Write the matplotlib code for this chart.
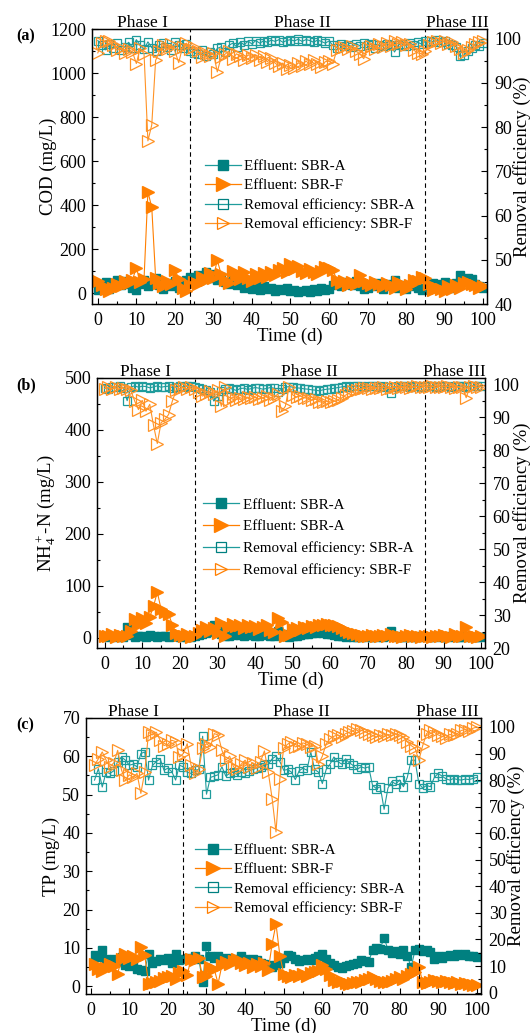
import numpy as np
import matplotlib.pyplot as plt
from matplotlib.lines import Line2D
from matplotlib.ticker import MultipleLocator

plt.rcParams['font.family'] = ['Liberation Serif', 'DejaVu Serif']
plt.rcParams['mathtext.fontset'] = 'custom'
plt.rcParams['mathtext.rm'] = 'Liberation Serif'
plt.rcParams['mathtext.it'] = 'Liberation Serif:italic'

## colours
TEAL = '#008080'
TEAL_LT = '#1f9c9c'
ORANGE = '#ff7f00'
ORANGE_LT = '#ff9326'

## ---- (a) COD ----
days_a = list(range(0, 101))
cod_eff_a = [15, 30, 50, 20, 45, 60, 35, 55, 40, 25, 15, 40, 60, 30, 50, 70, 35, 20, 45, 30,
             55, 25, 40, 60, 75, 55, 80, 65, 95, 70, 85, 60, 75, 50, 40, 60, 35, 45, 25, 30,
             20, 35, 15, 30, 20, 25, 10, 20, 15, 25, 10, 15, 5, 10, 15, 5, 20, 10, 25, 15,
             20, 35, 45, 30, 50, 40, 35, 55, 30, 20, 25, 35, 30, 45, 20, 40, 30, 60, 25, 35,
             20, 30, 40, 25, 15, 20, 30, 45, 25, 40, 50, 35, 25, 45, 80, 60, 70, 65, 40, 30, 25]
cod_eff_f = [55, 35, 20, 10, 25, 40, 30, 55, 45, 60, 115, 50, 65, 460, 390, 70, 45, 30, 55, 40,
             105, 65, 25, 10, 35, 50, 40, 75, 60, 90, 70, 150, 85, 60, 45, 100, 80, 65, 95, 70,
             55, 85, 70, 90, 75, 95, 80, 105, 115, 95, 130, 110, 125, 100, 90, 110, 95, 85, 100, 120,
             115, 105, 60, 45, 55, 35, 50, 40, 80, 55, 45, 35, 50, 40, 30, 45, 35, 25, 50, 40,
             20, 35, 60, 55, 75, 70, 40, 15, 25, 20, 10, 30, 20, 35, 25, 45, 50, 40, 35, 25, 30]
cod_rem_a = [99.6, 98.5, 97.5, 98.8, 97.8, 99.0, 97.5, 98.2, 99.2, 98.0, 99.8, 98.5, 97.6, 99.3, 98.0,
             97.2, 98.6, 99.0, 98.2, 97.5, 99.2, 98.5, 97.8, 98.8, 97.2, 96.8, 96.5, 97.5, 96.2, 97.0,
             96.6, 97.8, 98.2, 97.0, 98.5, 99.0, 98.2, 99.3, 98.6, 99.5, 98.8, 99.6, 99.0, 99.5, 99.2,
             99.7, 99.4, 99.8, 99.2, 99.6, 99.8, 99.5, 99.9, 99.4, 99.8, 99.6, 99.2, 99.7, 99.4, 99.0,
             99.5, 98.5, 98.0, 98.8, 98.3, 98.6, 98.1, 98.9, 98.4, 99.0, 98.5, 98.8, 98.0, 98.7, 98.3,
             98.9, 98.5, 97.0, 98.6, 98.9, 98.4, 99.0, 98.6, 99.2, 98.8, 99.4, 99.6, 99.3, 99.7, 99.2,
             99.5, 98.8, 98.5, 98.2, 96.0, 96.3, 97.2, 98.0, 98.6, 98.4, 99.0]
cod_rem_f = [96.8, 99.0, 99.6, 99.4, 98.6, 97.4, 98.0, 96.8, 97.6, 97.0, 94.4, 97.8, 96.6, 76.9, 80.5,
             95.1, 97.2, 98.5, 97.6, 98.8, 97.2, 94.6, 98.2, 99.0, 97.6, 98.2, 97.3, 95.8, 96.8, 96.0,
             96.8, 92.5, 95.8, 96.5, 97.2, 95.5, 96.6, 96.0, 95.2, 96.4, 95.6, 96.3, 95.2, 96.0, 94.8,
             95.6, 94.5, 93.8, 94.5, 93.2, 94.0, 93.4, 94.6, 93.8, 95.0, 94.2, 95.2, 94.4, 93.5, 94.8,
             95.0, 94.4, 97.4, 97.8, 98.2, 97.6, 98.4, 97.2, 96.6, 95.5, 97.8, 98.4, 97.6, 98.8, 98.2,
             99.0, 98.4, 99.4, 98.8, 99.2, 98.5, 98.9, 97.4, 96.8, 96.6, 97.2, 98.6, 99.2, 99.5, 99.0,
             99.6, 98.8, 99.2, 98.3, 97.6, 96.8, 97.4, 98.2, 98.8, 99.2, 99.4]

## ---- (b) NH4+-N ----
days_b = list(range(0, 101))
nh4_eff_a = [3, 2, 4, 1, 3, 2, 21, 5, 2, 4, 3, 2, 5, 3, 2, 4, 3, 2, 4, 3,
             1, 3, 2, 1, 3, 5, 6, 8, 10, 24, 12, 6, 4, 3, 5, 7, 5, 4, 6, 5,
             3, 4, 6, 5, 3, 4, 12, 6, 3, 2, 3, 4, 5, 6, 7, 8, 9, 10, 8, 7,
             6, 5, 4, 3, 2, 3, 2, 1, 2, 3, 2, 1, 2, 3, 2, 4, 13, 3, 2, 1,
             2, 3, 2, 1, 3, 2, 1, 2, 3, 2, 1, 2, 3, 2, 1, 2, 3, 2, 1, 2, 2]
nh4_eff_f = [4, 3, 6, 2, 5, 3, 4, 12, 35, 25, 38, 28, 40, 60, 88, 55, 50, 45, 25, 8,
             5, 3, 6, 2, 4, 8, 15, 20, 12, 18, 8, 28, 3, 20, 26, 22, 25, 18, 24, 20,
             22, 17, 21, 24, 15, 10, 38, 30, 3, 5, 16, 18, 15, 20, 18, 22, 20, 24, 25, 26,
             24, 25, 22, 18, 14, 11, 8, 6, 5, 4, 3, 5, 4, 3, 5, 4, 6, 3, 4, 2,
             3, 5, 4, 3, 2, 4, 3, 2, 4, 3, 5, 3, 2, 6, 4, 3, 20, 4, 3, 2, 3]
nh4_rem_a = [99.0, 98.6, 99.4, 99.2, 99.5, 99.0, 95.1, 99.3, 99.6, 99.2, 99.5, 99.4, 99.0, 99.3, 99.6,
             99.2, 99.4, 99.5, 99.1, 99.3, 99.6, 99.2, 99.5, 99.7, 99.3, 98.9, 98.6, 98.2, 97.8, 95.0,
             96.5, 98.0, 98.8, 99.0, 98.6, 98.2, 98.8, 98.9, 98.5, 98.8, 99.1, 98.9, 98.6, 98.8, 99.1,
             98.9, 97.8, 98.6, 99.2, 99.4, 99.2, 99.0, 98.9, 98.7, 98.6, 98.4, 98.3, 98.1, 98.4, 98.6,
             98.7, 98.9, 99.1, 99.3, 99.5, 99.3, 99.5, 99.6, 99.5, 99.3, 99.5, 99.6, 99.5, 99.4, 99.5,
             99.2, 97.4, 99.3, 99.5, 99.6, 99.5, 99.3, 99.5, 99.6, 99.4, 99.5, 99.6, 99.5, 99.4, 99.5,
             99.6, 99.5, 99.4, 99.5, 99.6, 99.5, 99.4, 99.5, 99.6, 99.5, 99.5]
nh4_rem_f = [98.8, 99.2, 98.6, 99.4, 98.8, 99.0, 98.6, 98.2, 95.0, 92.4, 95.2, 91.9, 94.0, 87.6, 82.1,
             88.4, 89.4, 90.9, 95.0, 98.2, 98.8, 99.2, 98.6, 99.4, 98.8, 97.6, 96.5, 97.2, 98.0, 97.0,
             98.2, 93.4, 99.4, 95.2, 96.2, 95.4, 96.0, 95.6, 96.2, 95.8, 96.3, 95.6, 96.0, 96.4, 95.2,
             96.0, 97.2, 91.9, 93.4, 99.4, 96.8, 96.2, 96.6, 96.0, 95.8, 95.2, 95.6, 94.8, 94.6, 95.0,
             94.7, 94.9, 95.4, 96.0, 96.8, 97.4, 98.0, 98.4, 98.7, 98.9, 99.0, 98.8, 99.1, 98.9, 99.2,
             98.8, 99.0, 99.3, 99.1, 99.4, 99.2, 99.0, 99.3, 99.5, 99.2, 99.4, 99.3, 99.5, 99.2, 99.4,
             99.3, 99.5, 99.2, 99.0, 99.4, 99.2, 96.0, 99.3, 99.5, 99.2, 99.4]

## ---- (c) TP ----
days_c = list(range(1, 101))
tp_eff_a = [8.1, 7.7, 9.4, 7.2, 6.5, 7.0, 6.3, 7.7, 5.5, 5.2, 5.8, 4.5, 4.2, 4.0, 8.5, 6.0, 6.5, 7.2, 6.8, 7.5,
            6.2, 8.5, 6.8, 7.2, 7.5, 7.0, 7.8, 7.2, 1.1, 10.4, 8.0, 7.5, 7.8, 7.0, 7.5, 6.8, 7.2, 6.5, 7.8, 7.0,
            6.5, 7.2, 6.8, 6.2, 5.8, 5.5, 5.0, 5.5, 6.0, 7.5, 8.2, 8.0, 7.0, 6.5, 6.8, 7.2, 6.8, 7.5, 8.0, 8.5,
            7.0, 6.0, 5.5, 5.0, 4.8, 5.2, 5.6, 5.8, 6.2, 6.8, 6.5, 6.3, 9.5, 10.0, 9.8, 12.7, 9.5, 8.8, 9.2, 8.5,
            9.4, 8.0, 5.0, 9.4, 9.6, 9.2, 9.5, 9.0, 7.2, 7.8, 7.5, 8.0, 8.2, 7.9, 8.4, 8.1, 8.3, 8.0, 7.8, 7.6]
tp_eff_f = [5.9, 4.5, 4.0, 4.8, 5.9, 5.2, 3.3, 7.2, 8.5, 7.5, 8.0, 7.2, 10.3, 8.1, 0.7, 0.8, 1.0, 1.5, 2.2, 2.4,
            2.8, 2.0, 3.5, 4.0, 3.0, 7.2, 6.8, 7.5, 2.4, 2.8, 5.0, 4.5, 0.7, 5.5, 6.3, 5.8, 6.5, 7.0, 6.0, 5.5,
            6.2, 5.0, 5.8, 5.2, 6.0, 4.2, 11.1, 16.3, 8.0, 3.3, 2.8, 2.4, 3.0, 2.6, 3.3, 2.8, 3.5, 3.8, 4.0, 5.5,
            4.5, 3.0, 1.6, 1.2, 1.4, 0.9, 0.7, 0.8, 1.0, 1.2, 1.6, 2.0, 2.4, 1.8, 1.5, 1.2, 1.0, 1.4, 1.8, 2.4,
            2.0, 2.8, 3.3, 3.8, 5.0, 1.1, 0.8, 1.2, 1.6, 1.4, 1.0, 1.5, 1.2, 0.8, 1.0, 0.6, 0.8, 0.5, 0.4, 0.3]
tp_rem_a = [80.0, 84.3, 77.4, 83.0, 82.5, 83.5, 87.0, 88.7, 87.5, 85.6, 86.0, 85.0, 90.0, 90.6, 80.0,
            85.5, 87.0, 88.0, 83.7, 84.5, 83.2, 80.0, 85.6, 85.0, 83.0, 82.5, 83.7, 84.0, 96.5, 74.7,
            81.0, 81.5, 82.0, 85.0, 81.5, 82.5, 83.0, 82.0, 83.0, 82.5, 83.5, 84.0, 84.5, 85.0, 85.6,
            86.0, 88.0, 89.0, 87.0, 83.7, 84.0, 83.0, 80.2, 83.5, 84.5, 83.7, 90.6, 84.0, 83.0, 78.7,
            84.0, 86.0, 88.7, 87.0, 86.0, 88.0, 86.5, 85.5, 84.0, 85.0, 84.5, 85.0, 78.0, 76.8, 77.5,
            69.0, 77.0, 79.5, 78.5, 80.0, 77.5, 81.0, 87.5, 87.5, 78.7, 77.0, 78.0, 77.5, 81.0, 82.5,
            81.5, 80.5, 80.0, 80.6, 80.2, 80.0, 80.4, 80.2, 80.6, 81.0]
tp_rem_f = [85.6, 88.0, 90.6, 87.5, 85.0, 86.5, 91.2, 83.7, 80.0, 82.0, 81.0, 82.5, 75.0, 83.0, 98.0,
            97.0, 98.0, 95.0, 93.0, 93.5, 95.0, 94.5, 88.7, 90.0, 93.7, 85.6, 82.5, 84.0, 92.0, 93.7,
            92.5, 97.5, 97.0, 91.2, 87.5, 89.0, 85.0, 84.0, 86.0, 87.5, 85.0, 86.5, 84.5, 87.0, 91.0,
            83.0, 73.0, 60.5, 80.6, 92.0, 93.5, 94.4, 92.5, 93.0, 94.0, 93.5, 92.5, 93.0, 86.0, 89.0,
            93.7, 95.6, 96.5, 97.0, 96.2, 97.5, 98.0, 98.6, 99.4, 98.8, 98.2, 97.5, 96.8, 96.2, 97.0,
            96.5, 97.2, 96.8, 97.5, 97.0, 96.2, 94.4, 93.0, 92.0, 87.5, 93.0, 97.5, 98.7, 98.0, 97.0,
            96.5, 96.0, 97.2, 96.8, 97.5, 98.7, 99.0, 98.5, 99.5, 100.0]

phase_names = ['Phase I', 'Phase II', 'Phase III']
phase_bounds = [24, 85]

fig = plt.figure(figsize=(5.31, 10.33), dpi=100)

panels = [
    dict(tag='(a)', days=days_a, ea=cod_eff_a, ef=cod_eff_f, ra=cod_rem_a, rf=cod_rem_f,
         ylabel='COD (mg/L)', pos=[0.1733, 0.7057, 0.7439, 0.2662],
         xlim=(-1.5, 101.0), ylim=(-50, 1200), ymaj=200, ymin=100,
         rlim=(40, 102.2), rmaj=10, rmin=5, ylx=-0.088, rlx=1.066,
         flabel='Effluent: SBR-F', phase_x=[11.5, 53.2, 93.2], leg=(0.285, 0.525), lsp=0.38),
    dict(tag='(b)', days=days_b, ea=nh4_eff_a, ef=nh4_eff_f, ra=nh4_rem_a, rf=nh4_rem_f,
         ylabel=r'$\mathrm{NH}_4^+$-N (mg/L)', pos=[0.1827, 0.3727, 0.7307, 0.2614],
         xlim=(-2.0, 101.0), ylim=(-20, 500), ymaj=100, ymin=50,
         rlim=(20, 102), rmaj=10, rmin=5, ylx=-0.10, rlx=1.072,
         flabel='Effluent: SBR-A', phase_x=[10.8, 54.5, 92.8], leg=(0.273, 0.555), lsp=0.55),
    dict(tag='(c)', days=days_c, ea=tp_eff_a, ef=tp_eff_f, ra=tp_rem_a, rf=tp_rem_f,
         ylabel='TP (mg/L)', pos=[0.162, 0.0378, 0.7439, 0.2672],
         xlim=(-1.2, 101.1), ylim=(-2, 70), ymaj=10, ymin=5,
         rlim=(-0.5, 103.4), rmaj=10, rmin=5, ylx=-0.066, rlx=1.066,
         flabel='Effluent: SBR-F', phase_x=[11.1, 54.5, 92.3], leg=(0.275, 0.545), lsp=0.38),
]

for p in panels:
    ax = fig.add_axes(p['pos'])
    ax2 = ax.twinx()

    ax.plot(p['days'], p['ea'], color=TEAL_LT, lw=0.8, marker='s', ms=6,
            mfc=TEAL, mec=TEAL)
    ax.plot(p['days'], p['ef'], color=ORANGE, lw=0.8, marker='>', ms=8,
            mfc=ORANGE, mec=ORANGE)
    ax2.plot(p['days'], p['ra'], color=TEAL_LT, lw=0.8, marker='s', ms=5.8,
             mfc='none', mec=TEAL_LT, mew=0.9)
    ax2.plot(p['days'], p['rf'], color=ORANGE_LT, lw=0.8, marker='>', ms=8,
             mfc='none', mec=ORANGE_LT, mew=0.9)

    for xb in phase_bounds:
        ax.axvline(xb, color='k', lw=0.8, ls=(0, (4, 3)))

    ax.xaxis.set_major_locator(MultipleLocator(10))
    ax.xaxis.set_minor_locator(MultipleLocator(5))
    ax.yaxis.set_major_locator(MultipleLocator(p['ymaj']))
    ax.yaxis.set_minor_locator(MultipleLocator(p['ymin']))
    ax2.yaxis.set_major_locator(MultipleLocator(p['rmaj']))
    ax2.yaxis.set_minor_locator(MultipleLocator(p['rmin']))
    ax.set_xlim(p['xlim'])
    ax.set_ylim(p['ylim'])
    ax2.set_ylim(p['rlim'])

    for a in (ax, ax2):
        a.tick_params(which='major', direction='in', length=4, width=0.8, labelsize=13)
        a.tick_params(which='minor', direction='in', length=2.3, width=0.8)
        for s in a.spines.values():
            s.set_linewidth(0.9)
    ax.tick_params(which='both', top=False, right=False)
    ax.tick_params(axis='x', which='major', pad=5.5)
    ax.tick_params(axis='y', which='major', pad=4.2)
    ax2.tick_params(which='both', left=False, right=True)
    ax2.tick_params(axis='y', which='major', pad=5.5)

    ax.set_xlabel('Time (d)', fontsize=13.5, labelpad=-1)
    ax.set_ylabel(p['ylabel'], fontsize=13.5)
    ax.yaxis.set_label_coords(p['ylx'], 0.5)
    ax2.set_ylabel('Removal efficiency (%)', fontsize=13.5)
    ax2.yaxis.set_label_coords(p['rlx'], 0.5)

    for name, xp in zip(phase_names, p['phase_x']):
        ax.text(xp, 1.008, name, transform=ax.get_xaxis_transform(),
                ha='center', va='baseline', fontsize=12.5)

    bb = ax.get_position()
    fig.text(0.03, bb.y1 - 7.0 / 1033, p['tag'], fontsize=11.5, fontweight='bold',
             ha='left', va='center')

    ## legend handles drawn a little bigger than the plotted markers
    handles = [
        Line2D([], [], color=TEAL_LT, lw=0.9, marker='s', ms=7.5, mfc=TEAL, mec=TEAL),
        Line2D([], [], color=ORANGE, lw=0.9, marker='>', ms=10, mfc=ORANGE, mec=ORANGE),
        Line2D([], [], color=TEAL_LT, lw=0.9, marker='s', ms=6.5, mfc='none', mec=TEAL, mew=0.9),
        Line2D([], [], color=ORANGE_LT, lw=0.9, marker='>', ms=9, mfc='none', mec=ORANGE, mew=0.9),
    ]
    labels = ['Effluent: SBR-A', p['flabel'], 'Removal efficiency: SBR-A', 'Removal efficiency: SBR-F']
    ax2.legend(handles, labels, loc='upper left', bbox_to_anchor=p['leg'],
               frameon=False, fontsize=10.8, handlelength=2.4, handletextpad=0.25,
               labelspacing=p['lsp'], borderaxespad=0, borderpad=0)

fig.savefig('out.png', dpi=100)
